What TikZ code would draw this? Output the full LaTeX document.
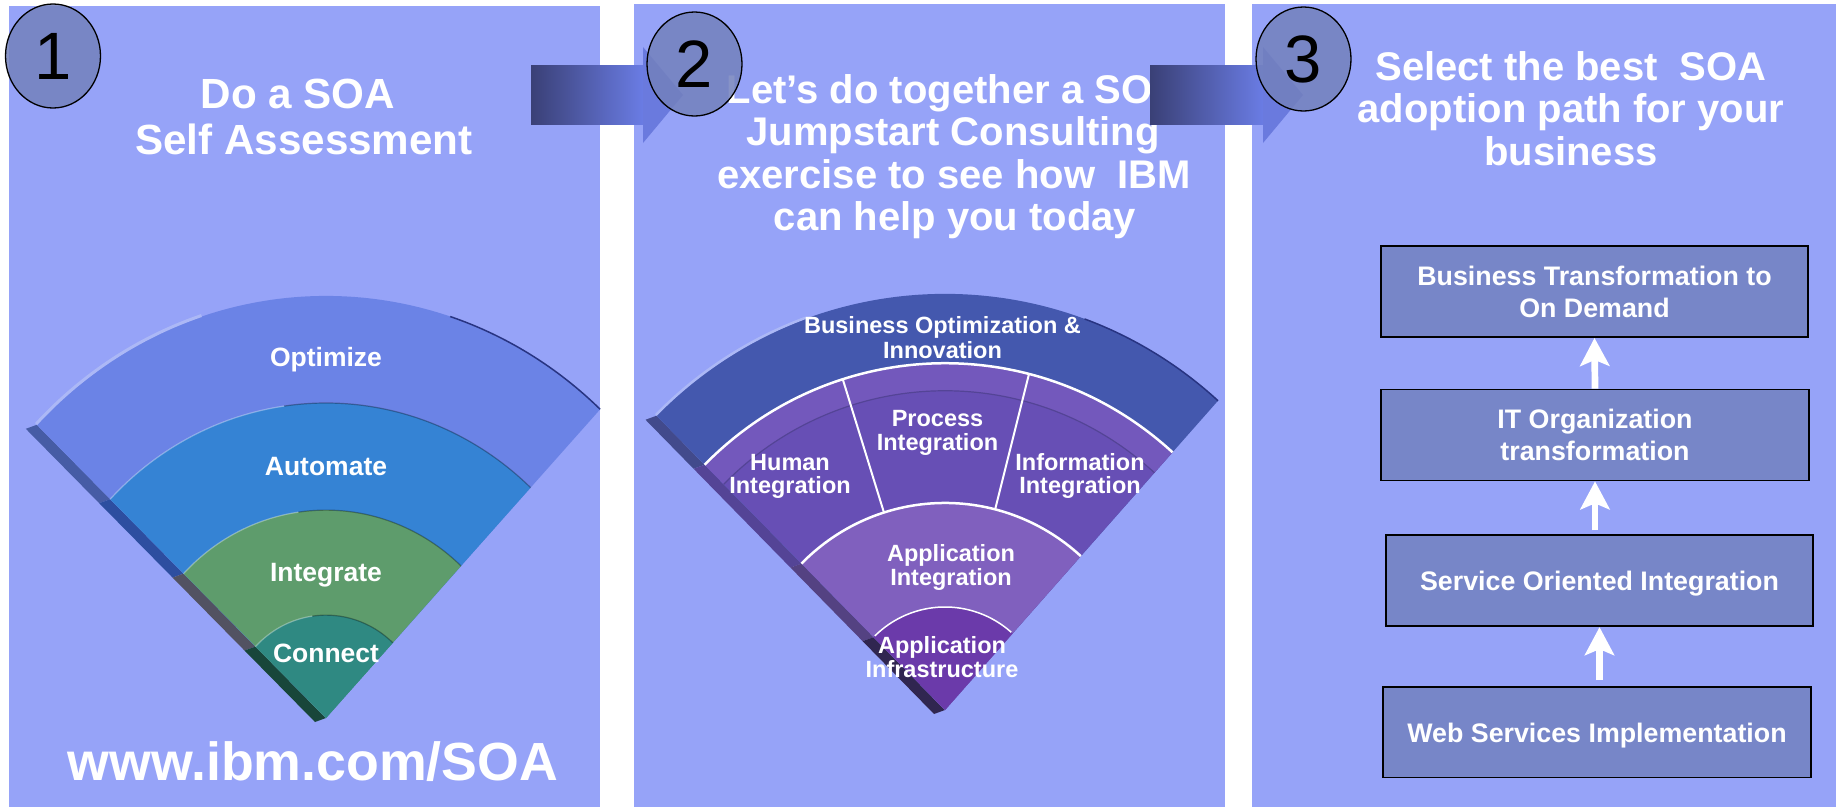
\documentclass[tikz,border=0pt]{standalone}
\usepackage{fontspec}
\setmainfont{Liberation Sans}
\usetikzlibrary{calc,arrows.meta,shapes.geometric}
\definecolor{panelc}{RGB}{150,163,248}
\definecolor{circc}{RGB}{115,129,189}
\definecolor{arrdark}{RGB}{58,64,118}
\definecolor{arrlight}{RGB}{106,124,228}
\definecolor{arrhead}{RGB}{106,122,222}
\definecolor{optc}{RGB}{107,131,230}
\definecolor{autc}{RGB}{53,131,212}
\definecolor{intc}{RGB}{94,156,108}
\definecolor{conc}{RGB}{47,137,130}
\definecolor{optS}{RGB}{70,92,165}
\definecolor{autS}{RGB}{45,78,160}
\definecolor{intS}{RGB}{82,82,98}
\definecolor{conS}{RGB}{24,70,58}
\definecolor{boc}{RGB}{68,88,174}
\definecolor{rtwo}{RGB}{103,79,181}
\definecolor{rtwoband}{RGB}{115,88,188}
\definecolor{aic}{RGB}{128,96,190}
\definecolor{infc}{RGB}{107,58,170}
\definecolor{boS}{RGB}{66,74,140}
\definecolor{rtwoS}{RGB}{84,68,150}
\definecolor{aiS}{RGB}{84,66,130}
\definecolor{infS}{RGB}{48,38,80}
\definecolor{boxc}{RGB}{119,134,200}
\definecolor{hilite}{RGB}{172,184,246}
\definecolor{edgedark}{RGB}{40,52,130}

\newcommand{\fanring}[7]{%
  \path[#1] ($(#2)+(#6:{#4} and {#3*#4})$)
    arc[start angle=#6,end angle=#7,x radius=#4,y radius={#3*#4}]
    -- ($(#2)+(#7:{#5} and {#3*#5})$)
    arc[start angle=#7,end angle=#6,x radius=#5,y radius={#3*#5}] -- cycle;}
\newcommand{\fanside}[6]{%
  \path[#1] ($(#2)+(#6:{#4} and {#3*#4})$)
    -- ($(#2)+(#6:{#5} and {#3*#5})$)
    -- ($(#2)+(#6:{#5} and {#3*#5})+(-11,4)$)
    -- ($(#2)+(#6:{#4} and {#3*#4})+(-11,4)$) -- cycle;}
\newcommand{\fanarc}[6]{%
  \draw[#1] ($(#2)+(#5:{#4} and {#3*#4})$)
    arc[start angle=#5,end angle=#6,x radius=#4,y radius={#3*#4}];}

\begin{document}
\begin{tikzpicture}[x=1pt,y=-1pt,
  title/.style={text=white,inner sep=0,anchor=base,font=\bfseries\fontsize{40}{43}\selectfont},
  bigtitle/.style={title,font=\bfseries\fontsize{42.2}{46}\selectfont},
  urltext/.style={title,font=\bfseries\fontsize{53.7}{58}\selectfont},
  fanlabA/.style={text=white,inner sep=0,anchor=base,font=\bfseries\fontsize{26.5}{29}\selectfont},
  fanlabB/.style={text=white,inner sep=0,anchor=base,font=\bfseries\fontsize{23.5}{25}\selectfont},
  numc/.style={ellipse,draw=black,line width=1.3,fill=circc,fill opacity=0.85,text opacity=1,
    minimum width=95,minimum height=104,inner sep=0,font=\fontsize{67}{67}\selectfont},
  box/.style={draw=black,line width=1.7,fill=boxc,text=white,align=center,inner sep=0,
    font=\bfseries\fontsize{26.8}{31.9}\selectfont},
  uparrow/.style={draw=white,line width=6.7,-{Stealth[length=28pt,width=29.3pt,inset=6pt]}},
  ringdark/.style={draw=black,draw opacity=0.3,line width=1.2},
  ringlight/.style={draw=white,draw opacity=0.35,line width=1.2}
]
\useasboundingbox (0,0) rectangle (1845,809);
\fill[white] (0,0) rectangle (1845,809);
% panels
\fill[panelc] (9,6) rectangle (600,807);
\fill[panelc] (634,4) rectangle (1225,807);
\fill[panelc] (1252,4) rectangle (1836,807);

% ---------- fan 1 ----------
\coordinate (f1) at (326,718);
\fanside{fill=optS}{f1}{1.05}{402}{300}{224}
\fanside{fill=autS}{f1}{1.05}{300}{198}{224}
\fanside{fill=intS}{f1}{1.05}{198}{98}{224}
\fanside{fill=conS}{f1}{1.05}{98}{0}{224}
\fanring{fill=optc}{f1}{1.05}{402}{0.1}{224}{313}
\fanring{fill=autc}{f1}{1.05}{300}{0.1}{224}{313}
\fanring{fill=intc}{f1}{1.05}{198}{0.1}{224}{313}
\fanring{fill=conc}{f1}{1.05}{98}{0.1}{224}{313}
\fanarc{ringlight}{f1}{1.05}{300}{224}{262}
\fanarc{ringdark}{f1}{1.05}{300}{262}{313}
\fanarc{ringlight}{f1}{1.05}{198}{224}{262}
\fanarc{ringdark}{f1}{1.05}{198}{262}{313}
\fanarc{ringlight}{f1}{1.05}{98}{224}{262}
\fanarc{ringdark}{f1}{1.05}{98}{262}{313}
\fanarc{draw=hilite,line width=3}{f1}{1.05}{403}{224}{252}
\fanarc{draw=edgedark,line width=1.5}{f1}{1.05}{402}{288}{313}

\node[fanlabA] (lopt) at (326,366.6) {Optimize};
\node[fanlabA] (laut) at (326,475) {Automate};
\node[fanlabA] (lint) at (326,581.7) {Integrate};
\node[fanlabA] (lcon) at (326,662.7) {Connect};

% ---------- fan 2 ----------
\coordinate (f2) at (945,710);
\fanside{fill=boS}{f2}{1.02}{408}{340}{225}
\fanside{fill=rtwoS}{f2}{1.02}{340}{203}{225}
\fanside{fill=aiS}{f2}{1.02}{203}{101}{225}
\fanside{fill=infS}{f2}{1.02}{101}{0}{225}
\fanring{fill=boc}{f2}{1.02}{408}{0.1}{225}{312}
\fanring{fill=rtwo}{f2}{1.02}{340}{0.1}{225}{312}
\fanring{fill=rtwoband}{f2}{1.02}{340}{313}{225}{312}
\fanarc{draw=rtwoS,line width=1.2}{f2}{1.02}{313}{225}{312}
\fanring{fill=aic}{f2}{1.02}{203}{0.1}{225}{312}
\fanring{fill=infc}{f2}{1.02}{101}{0.1}{225}{312}
\fanarc{draw=white,line width=2.5}{f2}{1.02}{340}{225}{312}
\fanarc{draw=white,line width=2.5}{f2}{1.02}{203}{225}{312}
\fanarc{draw=white,line width=1.5}{f2}{1.02}{101}{226}{311}
\draw[white,line width=2] ($(f2)+(252.5:{203} and {1.02*203})$) -- ($(f2)+(252.5:{340} and {1.02*340})$);
\draw[white,line width=2] ($(f2)+(284.3:{203} and {1.02*203})$) -- ($(f2)+(284.3:{340} and {1.02*340})$);
\fanarc{draw=hilite,line width=2.5}{f2}{1.02}{409}{225}{250}
\fanarc{draw=edgedark,line width=1.5}{f2}{1.02}{408}{290}{312}

\node[fanlabB] (lbo1) at (942.5,333) {Business Optimization \&};
\node[fanlabB] (lbo2) at (942.5,358) {Innovation};
\node[fanlabB] (lhu1) at (790,470) {Human};
\node[fanlabB] (lhu2) at (790,493) {Integration};
\node[fanlabB] (lpr1) at (937.5,426) {Process};
\node[fanlabB] (lpr2) at (937.5,450) {Integration};
\node[fanlabB] (lin1) at (1080,470) {Information};
\node[fanlabB] (lin2) at (1080,493) {Integration};
\node[fanlabB] (lai1) at (951,561) {Application};
\node[fanlabB] (lai2) at (951,585) {Integration};
\node[fanlabB] (laf1) at (942,653) {Application};
\node[fanlabB] (laf2) at (942,677) {Infrastructure};

% ---------- titles ----------
\node[bigtitle] (t1a) at (298,108) {Do a SOA};
\node[bigtitle] (t1b) at (304,154) {Self Assessment};
\node[urltext] (url) at (313,780) {www.ibm.com/SOA};

\node[title] (t2a) at (954,103) {Let’s do together a SOA};
\node[title] (t2b) at (953,145) {Jumpstart Consulting};
\node[title] (t2c) at (954,188) {exercise to see how\ \ IBM};
\node[title] (t2d) at (955,230) {can help you today};

\node[title] (t3a) at (1571,80) {Select the best\ \ SOA};
\node[title] (t3b) at (1571,122) {adoption path for your};
\node[title] (t3c) at (1571,165) {business};

% ---------- step arrows and numbers ----------
\node[numc] (n1) at (53,56) {1};
\fill[left color=arrdark,right color=arrlight] (531,65) rectangle (643,124);
\fill[arrhead] (643,47) -- (683,95) -- (643,143) -- cycle;
\node[numc] (n2) at (694.5,64) {2};
\fill[left color=arrdark,right color=arrlight] (1150,65) rectangle (1263,124);
\fill[arrhead] (1263,47) -- (1303,95) -- (1263,143) -- cycle;
\node[numc] (n3) at (1303.5,59) {3};

% ---------- adoption path ----------
\node[box,minimum width=427,minimum height=91] (b1) at (1594.5,291.6) {Business Transformation to\\On Demand};
\node[box,minimum width=428,minimum height=91] (b2) at (1595,435) {IT Organization\\transformation};
\node[box,minimum width=427,minimum height=91,text depth=0pt] (b3) at (1599.5,580.8) {Service Oriented Integration};
\node[box,minimum width=428,minimum height=90.4,text depth=0pt] (b4) at (1597,732.4) {Web Services Implementation};
\draw[uparrow] (b2.north) -- (b1.south);
\draw[uparrow,shorten <=4] (b3.north -| b2.south) -- (b2.south);
\draw[uparrow,shorten <=6] (b4.north -| b3.south) -- (b3.south);
\end{tikzpicture}
\end{document}
